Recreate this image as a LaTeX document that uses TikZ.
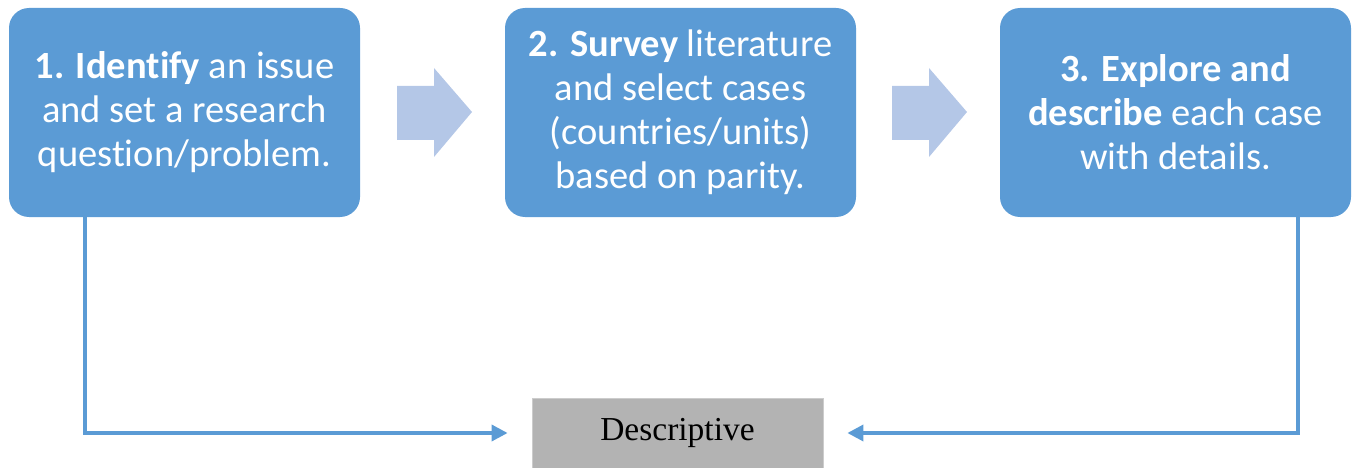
\documentclass[tikz,border=0pt]{standalone}
\usepackage{fontspec}
\setmainfont[Ligatures=NoCommon]{Carlito}
\newfontfamily\timesfont{Liberation Serif}
\usetikzlibrary{arrows.meta}
\definecolor{boxblue}{HTML}{5B9BD5}
\definecolor{lightblue}{HTML}{B4C7E7}
\definecolor{descgray}{HTML}{B3B3B3}
\tikzset{
  stepbox/.style={fill=boxblue, draw=none, rounded corners=20pt, minimum width=351pt, minimum height=209pt, text=white, align=center, font=\fontsize{38.5}{44}\selectfont, inner sep=0pt},
  descbox/.style={fill=descgray, draw=gray!40, line width=0.8pt, minimum width=291pt, minimum height=70pt, font=\timesfont\fontsize{33.5}{38}\selectfont, inner sep=0pt},
  blockarrow/.style={fill=lightblue, draw=none},
  conn/.style={draw=boxblue, line width=3.5pt, -{Triangle[length=16pt,width=16pt]}}
}
\begin{document}
\begin{tikzpicture}[x=1pt,y=-1pt]
\useasboundingbox (0,0) rectangle (1353,468);
\node[stepbox] (b1) at (184.5,112.5) {\textbf{1. Identify} an issue\\and set a research\\question/problem.};
\node[stepbox] (b2) at (680.5,112.5) {\textbf{2. Survey} literature\\and select cases\\(countries/units)\\based on parity.};
\node[stepbox] (b3) at (1175.5,112.5) {\textbf{3. Explore and}\\\textbf{describe} each case\\with details.};
\node[descbox] (d) at (677.5,433) {Descriptive};
\fill[blockarrow] (397,86) -- (434,86) -- (434,68) -- (472,112) -- (434,157) -- (434,140) -- (397,140) -- cycle;
\fill[blockarrow] (892,86) -- (929,86) -- (929,68) -- (967,112) -- (929,157) -- (929,140) -- (892,140) -- cycle;
\coordinate (c1) at (85,217);
\coordinate (c3) at (1298,217);
\draw[conn, shorten >=24pt] (c1) |- (d.west);
\draw[conn, shorten >=24pt] (c3) |- (d.east);
\end{tikzpicture}
\end{document}
